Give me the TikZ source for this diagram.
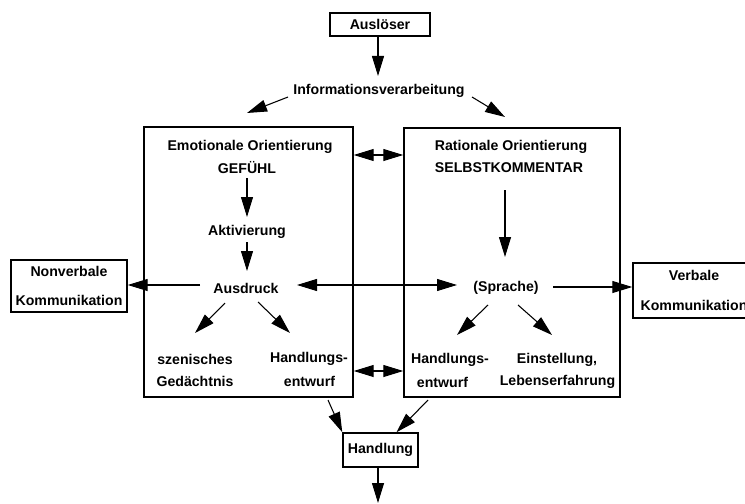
\documentclass[tikz,border=0pt]{standalone}
\usepackage{fontspec}
\setmainfont{Liberation Sans}
\usetikzlibrary{arrows.meta}
\begin{document}
\begin{tikzpicture}[x=0.75pt,y=-0.75pt,
  lbl/.style={font=\bfseries\fontsize{10.6}{12}\selectfont, inner sep=0pt, align=center},
  boxed/.style={lbl, draw, line width=1.1pt},
  twoline/.style={font=\bfseries\fontsize{10.6}{#1}\selectfont},
  bigbox/.style={draw, line width=1.1pt, inner sep=0pt},
  arr/.style={line width=0.8pt, -{Triangle[length=15pt,width=9pt]}},
  darr/.style={line width=0.8pt, {Triangle[length=15pt,width=9pt]}-{Triangle[length=15pt,width=9pt]}}]
\useasboundingbox (0,0) rectangle (745,503);

% frames
\node[bigbox, minimum width=156.75pt, minimum height=202.5pt] (L) at (248.5,262) {};
\node[bigbox, minimum width=162pt, minimum height=201.75pt] (R) at (512,262.5) {};

% boxed terms
\node[boxed, minimum width=75pt, minimum height=17pt] (ausl) at (380,24.5) {Auslöser};
\node[boxed, twoline=21.75, minimum width=87pt, minimum height=39pt] (nonv) at (69,286) {Nonverbale\\Kommunikation};
\node[boxed, twoline=22.5, minimum width=91.5pt, minimum height=41.25pt] (verb) at (694,290.5) {Verbale\\Kommunikation};
\node[boxed, minimum width=56.25pt, minimum height=25.5pt] (handl) at (380.5,450) {Handlung};

% plain terms
\node[lbl] (info) at (379,91) {Informationsverarbeitung};
\node[lbl] (emo) at (250,147) {Emotionale Orientierung};
\node[lbl] (gef) at (247,168) {GEFÜHL};
\node[lbl] (akt) at (247,232) {Aktivierung};
\node[lbl] (ausdr) at (246,288) {Ausdruck};
\node[lbl] (szen) at (195,359) {szenisches};
\node[lbl] (gedae) at (195,381) {Gedächtnis};
\node[lbl] (hlA) at (309,359) {Handlungs-};
\node[lbl] (entA) at (309.5,381) {entwurf};
\node[lbl] (rat) at (511,147) {Rationale Orientierung};
\node[lbl] (selbst) at (509,168) {SELBSTKOMMENTAR};
\node[lbl] (spr) at (506,288) {(Sprache)};
\node[lbl] (hlB) at (450,360) {Handlungs-};
\node[lbl] (entB) at (442.5,382) {entwurf};
\node[lbl] (einst) at (557,360) {Einstellung,};
\node[lbl] (leben) at (557.5,382) {Lebenserfahrung};

% arrow end points
\coordinate (c1) at (378,76);
\coordinate (c2s) at (288,97);   \coordinate (c2) at (247,113);
\coordinate (c3s) at (472,97);   \coordinate (c3) at (505,117);
\coordinate (c4s) at (247,178);  \coordinate (c4) at (247,217);
\coordinate (c5s) at (247,242);  \coordinate (c5) at (247,271);
\coordinate (c6s) at (200,285);
\coordinate (c7s) at (297,285);  \coordinate (c7) at (457,285);
\coordinate (c8s) at (505,190);  \coordinate (c8) at (505,257);
\coordinate (c9s) at (553,287);
\coordinate (d1s) at (225,303);  \coordinate (d1) at (195,333);
\coordinate (d2s) at (258,302);  \coordinate (d2) at (290,333);
\coordinate (d3s) at (488,305);  \coordinate (d3) at (457,335);
\coordinate (d4s) at (518,305);  \coordinate (d4) at (552,335);
\coordinate (e1s) at (328,400);
\coordinate (e2s) at (428,400);
\coordinate (e3) at (378,503);

% connectors
\draw[arr] (ausl.south -| c1) -- (c1);
\draw[arr] (c2s) -- (c2);
\draw[arr] (c3s) -- (c3);
\draw[darr] (L.east |- 0,155) -- (R.west |- 0,155);
\draw[darr] (L.east |- 0,371) -- (R.west |- 0,371);
\draw[arr] (c4s) -- (c4);
\draw[arr] (c5s) -- (c5);
\draw[arr] (c6s) -- (nonv.east |- c6s);
\draw[darr] (c7s) -- (c7);
\draw[arr] (c8s) -- (c8);
\draw[arr] (c9s) -- (verb.west |- c9s);
\draw[arr] (d1s) -- (d1);
\draw[arr] (d2s) -- (d2);
\draw[arr] (d3s) -- (d3);
\draw[arr] (d4s) -- (d4);
\draw[arr] (e1s) -- (handl.north west);
\draw[arr] (e2s) -- ([xshift=12pt]handl.north);
\draw[arr] (handl.south -| e3) -- (e3);
\end{tikzpicture}
\end{document}
